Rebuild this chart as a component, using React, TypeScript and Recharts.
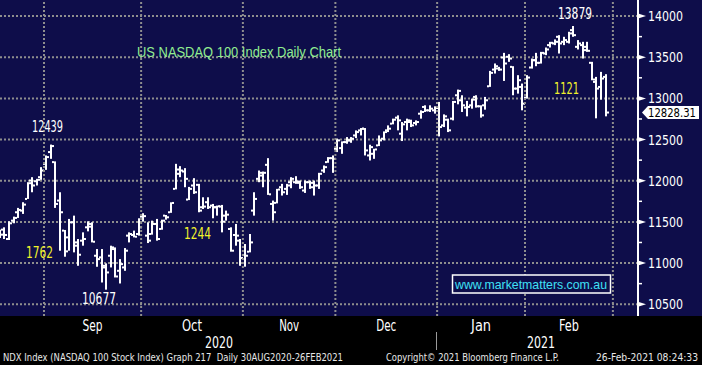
import { ComposedChart, Bar, XAxis, YAxis, CartesianGrid, ReferenceLine } from 'recharts'

// NDX daily bars, 18 Aug 2020 .. 25 Feb 2021
const opens = [
  11333, 11406, 11292, 11515, 11617, 11637, 11779, 12002, 11994, 12043,
  12205, 12348, 12226, 11759, 11394, 11312, 11495, 11251, 11272, 11434,
  11475, 11089, 11069, 10967, 11089, 11170, 10906, 10947, 11333, 11341,
  11353, 11564, 11333, 11353, 11475, 11414, 11576, 11617, 11901, 12136,
  12112, 11771, 11942, 11950, 11678, 11739, 11698, 11678, 11686, 11576,
  11414, 11341, 11272, 11097, 11138, 11637, 12023, 12063, 12193, 11718,
  11731, 11921, 11901, 11982, 11982, 11990, 11881, 11982, 11974, 11942,
  12124, 12226, 12274, 12388, 12396, 12469, 12490, 12550, 12611, 12632,
  12307, 12327, 12429, 12510, 12612, 12693, 12766, 12571, 12713, 12713,
  12701, 12814, 12896, 12855, 12855, 12944, 12672, 12741, 12754, 13038,
  12977, 12888, 12916, 13018, 12904, 12916, 13147, 13350, 13363, 13497,
  13505, 13383, 13119, 13139, 13009, 13375, 13464, 13432, 13545, 13647,
  13667, 13748, 13687, 13687, 13829, 13626, 13647, 13626, 13432, 13200,
  13139, 13261,
]
const highs = [
  11406, 11434, 11507, 11564, 11670, 11739, 11982, 12043, 12023, 12165,
  12307, 12439, 12235, 11860, 11402, 11536, 11576, 11292, 11373, 11507,
  11495, 11170, 11170, 10996, 11211, 11190, 11048, 11182, 11373, 11394,
  11544, 11605, 11495, 11515, 11536, 11527, 11584, 11738, 12205, 12177,
  12153, 11925, 12031, 11962, 11799, 11799, 11718, 11698, 11706, 11637,
  11434, 11475, 11292, 11231, 11353, 11860, 12124, 12112, 12274, 11759,
  11901, 11962, 11962, 12043, 12055, 12002, 12002, 12002, 12002, 12096,
  12185, 12287, 12307, 12510, 12478, 12530, 12530, 12611, 12640, 12640,
  12437, 12388, 12550, 12599, 12672, 12754, 12794, 12713, 12754, 12741,
  12733, 12855, 12916, 12916, 12904, 12957, 12806, 12754, 12969, 13107,
  13038, 12969, 12997, 13038, 12916, 13018, 13334, 13424, 13383, 13553,
  13537, 13391, 13282, 13180, 13282, 13484, 13553, 13565, 13618, 13687,
  13716, 13768, 13748, 13809, 13879, 13708, 13687, 13687, 13444, 13261,
  13322, 13294,
]
const lows = [
  11304, 11292, 11280, 11483, 11548, 11597, 11779, 11860, 11942, 12011,
  12132, 12266, 11670, 11150, 11077, 11150, 11130, 10967, 11211, 11385,
  11251, 10955, 10764, 10677, 10947, 10825, 10752, 10906, 11251, 11312,
  11333, 11503, 11243, 11345, 11272, 11405, 11527, 11610, 11895, 12043,
  11921, 11765, 11840, 11617, 11657, 11657, 11544, 11576, 11373, 11515,
  11138, 11211, 10967, 10956, 11130, 11576, 11982, 11921, 11828, 11515,
  11725, 11820, 11828, 11909, 11962, 11901, 11852, 11901, 11820, 11901,
  12096, 12218, 12096, 12348, 12327, 12449, 12461, 12518, 12550, 12307,
  12246, 12266, 12421, 12490, 12591, 12685, 12612, 12482, 12612, 12652,
  12672, 12754, 12835, 12835, 12815, 12538, 12652, 12591, 12733, 12928,
  12835, 12782, 12875, 12888, 12766, 12863, 13140, 13302, 13334, 13212,
  13444, 13038, 13058, 12855, 12997, 13362, 13391, 13423, 13525, 13618,
  13647, 13545, 13647, 13667, 13748, 13594, 13484, 13565, 13220, 12758,
  12985, 12782,
]
const closes = [
  11345, 11341, 11483, 11548, 11645, 11710, 11970, 11942, 12011, 12124,
  12287, 12421, 11718, 11617, 11142, 11495, 11211, 11101, 11292, 11442,
  11259, 11048, 10947, 10886, 11190, 10837, 10987, 11150, 11353, 11320,
  11434, 11570, 11272, 11475, 11292, 11515, 11556, 11730, 12084, 12124,
  12023, 11901, 11860, 11637, 11686, 11678, 11678, 11690, 11503, 11588,
  11150, 11333, 11061, 11089, 11251, 11779, 12096, 12096, 11835, 11617,
  11893, 11860, 11942, 12023, 11974, 11921, 11982, 11921, 11942, 12084,
  12165, 12274, 12266, 12490, 12469, 12490, 12510, 12591, 12632, 12368,
  12408, 12380, 12490, 12591, 12632, 12741, 12733, 12685, 12733, 12672,
  12713, 12835, 12855, 12875, 12883, 12652, 12782, 12612, 12957, 13091,
  12916, 12896, 12985, 12904, 12794, 12977, 13310, 13391, 13350, 13424,
  13484, 13119, 13221, 12936, 13253, 13464, 13432, 13553, 13594, 13675,
  13687, 13667, 13708, 13789, 13768, 13667, 13586, 13578, 13229, 13119,
  13241, 12828.31,
]

// trading-day index where each month starts (gridlines), plus month names
const monthStarts = [10, 31, 53, 73, 95, 114, 133]
const monthNames = ['Sep', 'Oct', 'Nov', 'Dec', 'Jan', 'Feb']
const monthMids = monthNames.map((_, i) => (monthStarts[i] + monthStarts[i + 1]) / 2)

const priceMajor = [10500, 11000, 11500, 12000, 12500, 13000, 13500, 14000]
const priceMinor = [10750, 11250, 11750, 12250, 12750, 13250, 13750]
const lastPrice = closes[closes.length - 1]

const bars = opens.map((o, i) => ({
  x: i + 0.5,
  open: o,
  high: highs[i],
  low: lows[i],
  close: closes[i],
  range: [lows[i], highs[i]],
}))

const NAVY = '#0e0d4a'
const GRID = '#8e8e8e'
const NARROW = "'Liberation Sans Narrow', 'Arial Narrow', 'DejaVu Sans Condensed', sans-serif"
const SANS = "'Liberation Sans', Arial, sans-serif"

const OhlcShape = (props: any) => {
  const { x, y, width, height, payload } = props
  const top = Math.min(y, y + height)
  const bot = Math.max(y, y + height)
  const span = payload.high - payload.low || 1
  const k = (bot - top) / span
  const yo = top + (payload.high - payload.open) * k
  const yc = top + (payload.high - payload.close) * k
  const cx = Math.round(x + width / 2)
  return (
    <g fill="#fff">
      <rect x={cx - 1} y={top} width={2} height={Math.max(1, bot - top)} />
      <rect x={cx - 3} y={yo - 1} width={2} height={2} />
      <rect x={cx + 1} y={yc - 1} width={2} height={2} />
    </g>
  )
}

const PriceTick = (props: any) => {
  const { x, y, payload } = props
  const v = payload.value
  if (v === lastPrice) {
    return (
      <g>
        <polygon points={`${x + 4},${y} ${x + 10},${y - 6.5} ${x + 61},${y - 6.5} ${x + 61},${y + 6.5} ${x + 10},${y + 6.5}`} fill="#fff" />
        <text x={x + 10} y={y + 4.5} fill="#000" fontSize={12} fontFamily={NARROW} textLength={48} lengthAdjust="spacingAndGlyphs">
          {v.toFixed(2)}
        </text>
      </g>
    )
  }
  if (v % 500 === 0) {
    return (
      <g>
        <polygon points={`${x},${y - 2.5} ${x + 8},${y} ${x},${y + 2.5}`} fill="#fff" />
        <text x={x + 10} y={y + 5} fill="#fff" fontSize={14} fontFamily={NARROW} textLength={35} lengthAdjust="spacingAndGlyphs">
          {v}
        </text>
      </g>
    )
  }
  return <line x1={x} x2={x + 4} y1={y} y2={y} stroke="#fff" strokeWidth={1.5} />
}

const MonthTick = (props: any) => {
  const { x, y, payload } = props
  const name = monthNames[monthMids.indexOf(payload.value)]
  return (
    <text x={x} y={y + 15} textAnchor="middle" fill="#fff" fontSize={15} fontFamily={NARROW} textLength={20} lengthAdjust="spacingAndGlyphs">
      {name}
    </text>
  )
}

const Label = ({ x, y, w, color, size = 15, family = NARROW, children }: any) => (
  <text x={x} y={y} fill={color} fontSize={size} fontFamily={family} textLength={w} lengthAdjust="spacingAndGlyphs" style={{ whiteSpace: 'pre' }}>
    {children}
  </text>
)

export default function App() {
  return (
    <div
      style={{
        position: 'absolute',
        left: 0,
        top: 0,
        width: 702,
        height: 365,
        background: `linear-gradient(to bottom, ${NAVY} 0, ${NAVY} 316px, #000 316px)`,
      }}
    >
      <ComposedChart width={702} height={365} data={bars} margin={{ top: 0, right: 0, bottom: 0, left: 0 }}>
        <CartesianGrid
          xAxisId="grid"
          stroke={GRID}
          strokeWidth={2}
          strokeDasharray="2 2"
          vertical={false}
          horizontalValues={priceMajor}
        />
        <XAxis
          xAxisId="grid"
          type="number"
          dataKey="x"
          domain={[0.4865, 138.43]}
          allowDataOverflow
          ticks={monthStarts}
          interval={0}
          height={0}
          mirror
          tick={false}
          tickSize={4}
          axisLine={{ stroke: '#fff', strokeWidth: 2 }}
          tickLine={{ stroke: '#fff', strokeWidth: 1.5 }}
        />
        <XAxis
          xAxisId="mon"
          type="number"
          dataKey="x"
          domain={[0.4865, 138.43]}
          allowDataOverflow
          ticks={monthMids}
          interval={0}
          height={49}
          axisLine={false}
          tickLine={false}
          tickSize={0}
          tickMargin={0}
          tick={<MonthTick />}
        />
        <YAxis
          orientation="right"
          width={64}
          domain={[10357, 14195]}
          allowDataOverflow
          ticks={[...priceMajor, ...priceMinor, lastPrice].sort((a, b) => a - b)}
          interval={0}
          tickSize={0}
          tickMargin={0}
          tickLine={false}
          axisLine={{ stroke: '#fff', strokeWidth: 2 }}
          tick={<PriceTick />}
        />
        {monthStarts.map((b) => (
          <ReferenceLine key={b} xAxisId="grid" x={b} stroke={GRID} strokeWidth={2} strokeDasharray="2 2" />
        ))}
        <Bar xAxisId="grid" dataKey="range" barSize={4} isAnimationActive={false} shape={<OhlcShape />} />
      </ComposedChart>

      <svg width={702} height={365} style={{ position: 'absolute', left: 0, top: 0, pointerEvents: 'none' }}>
        <Label x={137} y={57} w={204} color="#90ee90" size={14} family={SANS}>US NASDAQ 100 Index Daily Chart</Label>
        <Label x={32} y={132} w={31} color="#fff">12439</Label>
        <Label x={26} y={258} w={27} color="#f2f22a">1762</Label>
        <Label x={82} y={304} w={34} color="#fff">10677</Label>
        <Label x={184} y={239} w={27} color="#f2f22a">1244</Label>
        <Label x={558} y={19} w={34} color="#fff">13879</Label>
        <Label x={554} y={94} w={25} color="#f2f22a">1121</Label>

        <rect x={452.5} y={275} width={158} height={18} fill={NAVY} stroke="#fff" strokeWidth={1.5} />
        <Label x={455} y={289} w={152} color="#3fe0f5" size={13} family={SANS}>www.marketmatters.com.au</Label>

        <line x1={436.5} x2={436.5} y1={332} y2={350} stroke="#9a9a9a" strokeWidth={1} />
        <Label x={205} y={348} w={28} color="#fff">2020</Label>
        <Label x={527} y={348} w={28} color="#fff">2021</Label>

        <Label x={3} y={361} w={340} color="#e8e8e8" size={11}>NDX Index (NASDAQ 100 Stock Index) Graph 217  Daily 30AUG2020-26FEB2021</Label>
        <Label x={386} y={361} w={173} color="#e8e8e8" size={11}>Copyright© 2021 Bloomberg Finance L.P.</Label>
        <Label x={596} y={361} w={102} color="#e8e8e8" size={10}>26-Feb-2021 08:24:33</Label>
      </svg>
    </div>
  )
}
